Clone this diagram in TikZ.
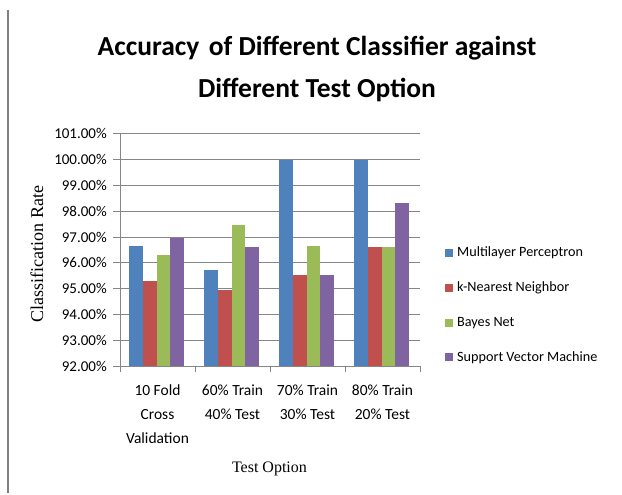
\documentclass[tikz,border=0pt]{standalone}
\usepackage{fontspec}
\setmainfont{Carlito}
\newfontfamily\axisfont{Liberation Serif}
\usetikzlibrary{positioning}
\definecolor{mlpblue}{HTML}{4F81BD}
\definecolor{knnred}{HTML}{C0504D}
\definecolor{bayesgreen}{HTML}{9BBB59}
\definecolor{svmpurple}{HTML}{8064A2}
\definecolor{gridgray}{HTML}{868686}
\tikzset{
  gridline/.style={gridgray, line width=0.8pt},
  ticklabel/.style={font=\fontsize{15}{18}\selectfont, left, inner sep=0pt},
  catlabel/.style={font=\fontsize{15.5}{24}\selectfont, align=center, anchor=north, inner sep=0pt},
  legendlabel/.style={font=\fontsize{14.2}{18}\selectfont, right, inner sep=0pt},
  titlelabel/.style={font=\fontsize{27.5}{32}\selectfont\bfseries, anchor=base, inner sep=0pt},
  axistitle/.style={font=\axisfont\fontsize{16}{18}\selectfont, inner sep=0pt}
}
\begin{document}
\begin{tikzpicture}[x=1pt, y=-1pt]
        \useasboundingbox (0,0) rectangle (622,495);
        % page edge on the left
        \draw[gray, line width=1.2pt] (8,10) -- (8,493);
        % title
        \node[titlelabel] (title1) at (317,56) {Accuracy\hspace{0.12em} of Different Classifier against};
        \node[titlelabel] (title2) at (317,98) {Different Test Option};
        % draw horizontal grid lines and y labels
        \foreach \v in {92,...,101}
        {
        \draw[gridline] (113,{366-(\v-92)*25.8}) -- (420,{366-(\v-92)*25.8});
        \node[ticklabel] (ytick\v) at (107,{366-(\v-92)*25.8}) {\v.00\%};
        }
        % draw vertical axis and x ticks
        \draw[gridline] (120,133) -- (120,366);
        \foreach \x in {0,...,4}
        \draw[gridline] (120+75*\x,366) -- (120+75*\x,372);
        % colored bars
        \foreach \col/\vals [count=\k from 0] in
        {mlpblue/{96.64,95.72,100,100}, knnred/{95.29,94.93,95.51,96.61},
         bayesgreen/{96.29,97.47,96.64,96.61}, svmpurple/{96.97,96.61,95.51,98.32}}
        \foreach \v [count=\g from 0] in \vals
        \fill[\col] (129+75*\g+13.75*\k,366) rectangle +(13.75,{-(\v-92)*25.8});
        % category labels
        \node[catlabel] (cat1) at (157.5,385) {10 Fold\\Cross\\Validation};
        \node[catlabel] (cat2) at (232.5,385) {60\% Train\\40\% Test};
        \node[catlabel] (cat3) at (307.5,385) {70\% Train\\30\% Test};
        \node[catlabel] (cat4) at (382.5,385) {80\% Train\\20\% Test};
        % axis titles
        \node[axistitle, anchor=base] (xtitle) at (269.5,472) {Test Option};
        \node[axistitle, rotate=90, font=\axisfont\fontsize{18}{20}\selectfont] (ytitle) at (37,254) {Classification Rate};
        % legend
        \foreach \col/\name [count=\k from 0] in
        {mlpblue/Multilayer Perceptron, knnred/k-Nearest Neighbor,
         bayesgreen/Bayes Net, svmpurple/Support Vector Machine}
        {
        \fill[\col] (445,249+34.8*\k) rectangle +(8,8);
        \node[legendlabel] (leg\k) at (457,253+34.8*\k) {\name};
        }
\end{tikzpicture}
\end{document}
